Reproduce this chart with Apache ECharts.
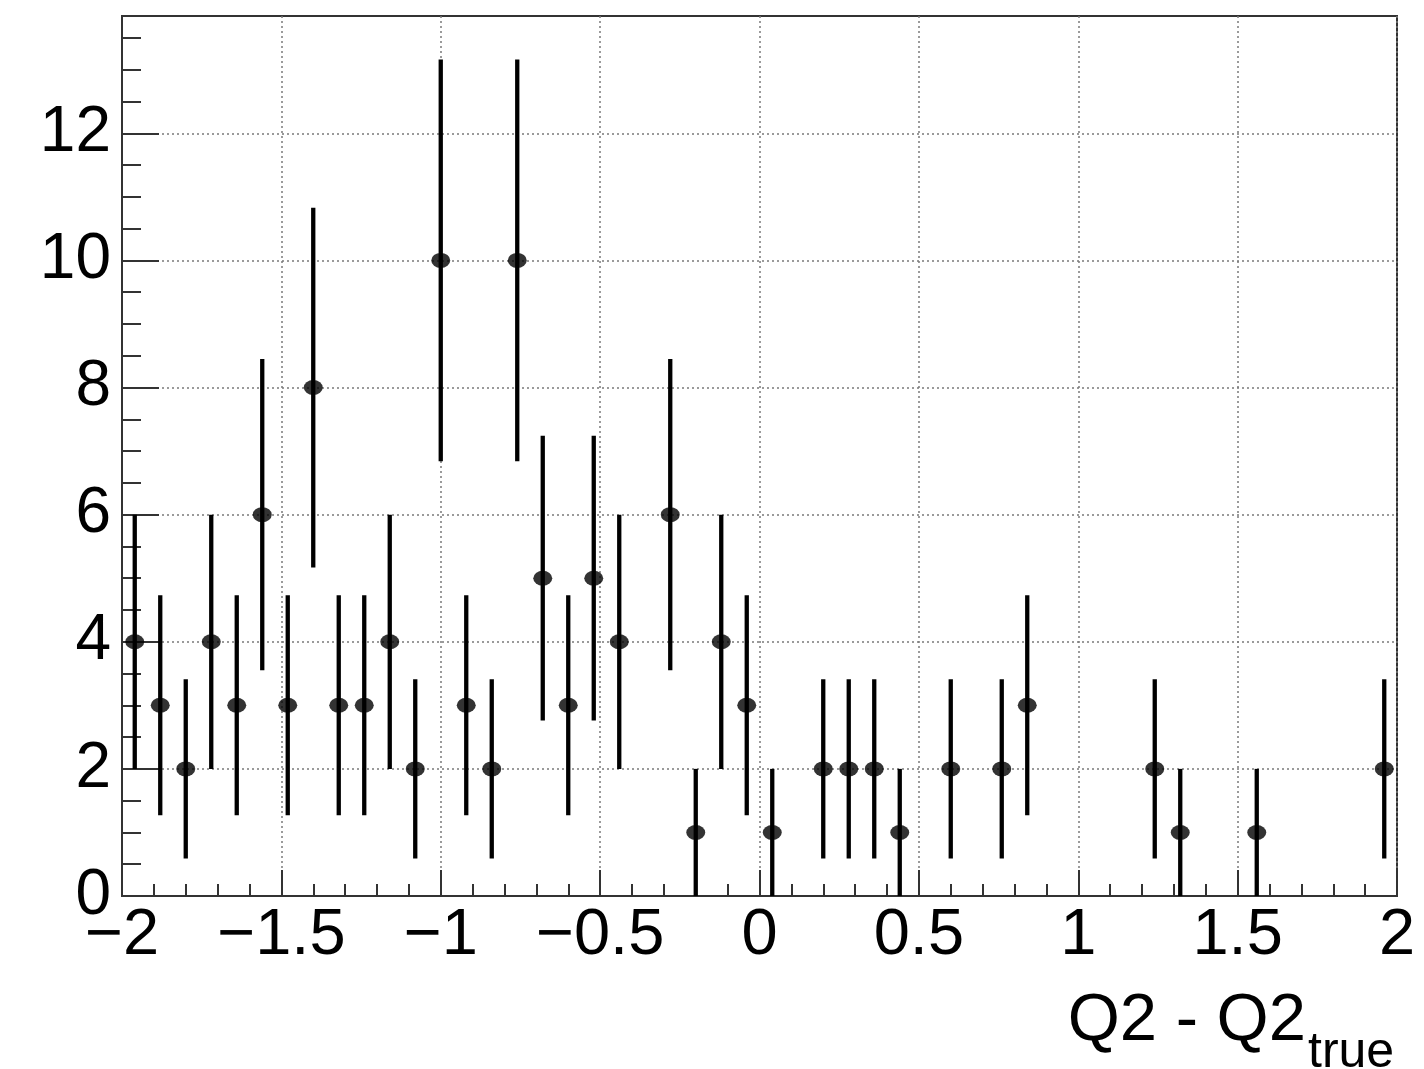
<!DOCTYPE html>
<html><head><meta charset="utf-8">
<script src="https://cdn.jsdelivr.net/npm/echarts@6/dist/echarts.min.js"></script>
<style>html,body{margin:0;padding:0;background:#fff}#c{width:1424px;height:1069px}</style>
</head><body><div id="c"></div>
<script>
// Non-empty bins of the histogram (bin width 0.08 on [-2, 2])
const binCenters = [-1.96,-1.88,-1.80,-1.72,-1.64,-1.56,-1.48,-1.40,-1.32,-1.24,
  -1.16,-1.08,-1.00,-0.92,-0.84,-0.76,-0.68,-0.60,-0.52,-0.44,
  -0.28,-0.20,-0.12,-0.04,0.04,0.20,0.28,0.36,0.44,0.60,
  0.76,0.84,1.24,1.32,1.56,1.96];
const counts = [4,3,2,4,3,6,3,8,3,3,
  4,2,10,3,2,10,5,3,5,4,
  6,1,4,3,1,2,2,2,1,2,
  2,3,2,1,1,2];
const errors = [2.0,1.73,1.41,2.0,1.73,2.45,1.73,2.83,1.73,1.73,
  2.0,1.41,3.16,1.73,1.41,3.16,2.24,1.73,2.24,2.0,
  2.45,1.0,2.0,1.73,1.0,1.41,1.41,1.41,1.0,1.41,
  1.41,1.73,1.41,1.0,1.0,1.41];
const xTickLabels = [-2,-1.5,-1,-0.5,0,0.5,1,1.5,2];
const yTickLabels = [0,2,4,6,8,10,12];
const yMinorTicks = [0.5,1,1.5,2.5,3,3.5,4.5,5,5.5,6.5,7,7.5,8.5,9,9.5,10.5,11,11.5,12.5,13,13.5];
const xTitleMain = 'Q2 - Q2';
const xTitleSub = 'true';

const FONT = '"Liberation Sans", Arial, Helvetica, sans-serif';
const chart = echarts.init(document.getElementById('c'), null, {renderer: 'canvas'});
const gridLine = {show: true, lineStyle: {color: '#7a7a7a', width: 1.5, type: [2, 3]}};

chart.setOption({
  animation: false,
  backgroundColor: '#fff',
  grid: {left: 122, right: 27, top: 16, bottom: 173, show: true, borderColor: '#333', borderWidth: 2, backgroundColor: 'transparent'},
  xAxis: {
    type: 'value', min: -2, max: 2, interval: 0.5,
    axisLine: {show: true, onZero: false, lineStyle: {color: '#333', width: 2}},
    axisTick: {show: true, inside: true, length: 26, lineStyle: {color: '#333', width: 2}},
    minorTick: {show: true, splitNumber: 5, length: 12, lineStyle: {color: '#333', width: 2}},
    splitLine: gridLine,
    axisLabel: {
      margin: 8, fontSize: 65, color: '#000', fontFamily: FONT,
      showMinLabel: true, showMaxLabel: true,
      customValues: xTickLabels,
      formatter: v => (v < 0 ? '\u2212' + Math.abs(v) : String(v))
    }
  },
  yAxis: [{
    type: 'value', min: 0, max: 13.845, interval: 2,
    axisLine: {show: true, onZero: false, lineStyle: {color: '#333', width: 2}},
    axisTick: {show: true, inside: true, length: 37, customValues: yTickLabels, lineStyle: {color: '#333', width: 2}},
    splitLine: gridLine,
    axisLabel: {margin: 11, fontSize: 64, color: '#000', fontFamily: FONT, customValues: yTickLabels}
  }, {
    type: 'value', min: 0, max: 13.845, position: 'left',
    axisLine: {show: false, onZero: false},
    axisTick: {show: true, inside: true, length: 19, customValues: yMinorTicks, lineStyle: {color: '#333', width: 2}},
    splitLine: {show: false},
    axisLabel: {show: false}
  }],
  graphic: [
    {type: 'text', right: 118, top: 988, style: {text: xTitleMain, font: '67px ' + FONT, fill: '#000'}},
    {type: 'text', left: 1308, top: 1028, style: {text: xTitleSub, font: '50px ' + FONT, fill: '#000'}}
  ],
  series: [{
    type: 'custom',
    yAxisIndex: 0,
    data: binCenters.map((x, i) => [x, counts[i], errors[i]]),
    renderItem: (params, api) => {
      const x = api.value(0), y = api.value(1), e = api.value(2);
      const p1 = api.coord([x, Math.max(0, y - e)]);
      const p2 = api.coord([x, y + e]);
      return {type: 'line', shape: {x1: p1[0], y1: p1[1], x2: p2[0], y2: p2[1]}, style: {stroke: '#000', lineWidth: 4.3}};
    },
    z: 3
  }, {
    type: 'scatter',
    yAxisIndex: 0,
    data: binCenters.map((x, i) => [x, counts[i]]),
    symbol: 'circle', symbolSize: [19, 15],
    itemStyle: {color: '#000'},
    z: 4
  }]
});
</script></body></html>
